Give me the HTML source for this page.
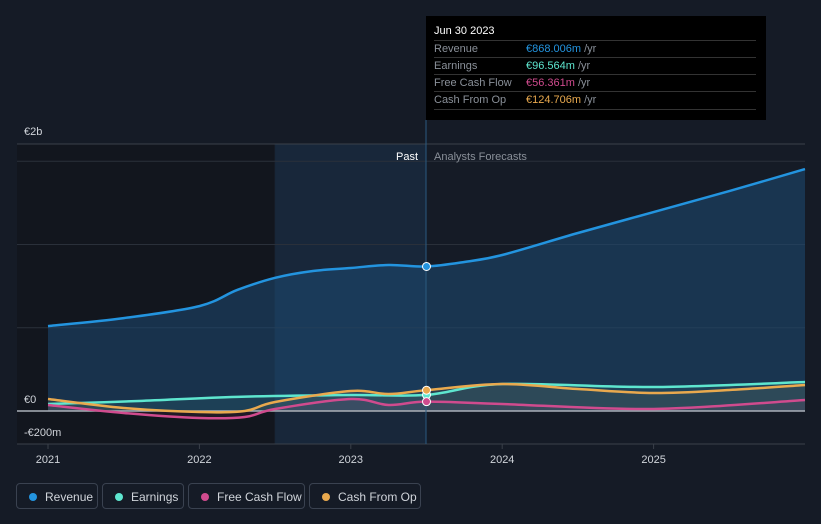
<!DOCTYPE html>
<html><head><meta charset="utf-8"><style>
body{margin:0;background:#151b26;font-family:"Liberation Sans",sans-serif;}
#c{position:absolute;left:0;top:0;width:821px;height:524px;}
.leg{position:absolute;top:483px;height:26px;border:1px solid #3a4250;border-radius:4px;color:#d0d4da;font-size:12px;line-height:26px;box-sizing:border-box;padding-left:28px}
.leg i{position:absolute;left:12px;top:9px;width:8px;height:8px;border-radius:50%}
.tt{position:absolute;left:426px;top:16px;width:340px;height:104px;background:#000;color:#8a9099;font-size:11px}
.tt .r{position:absolute;left:8px;width:322px;border-top:1px solid #333;height:17px;line-height:17px}
</style></head><body>
<svg id="c" width="821" height="524"></svg>
<div class="tt">
<div style="position:absolute;left:8px;top:9px;color:#fff;font-size:11px">Jun 30 2023</div>
<div class="r" style="top:24px">Revenue<span style="position:absolute;left:92px;color:#2394df">€868.006m <span style="color:#8a9099">/yr</span></span></div>
<div class="r" style="top:41px">Earnings<span style="position:absolute;left:92px;color:#5ee6cf">€96.564m <span style="color:#8a9099">/yr</span></span></div>
<div class="r" style="top:58px">Free Cash Flow<span style="position:absolute;left:92px;color:#d04b8e">€56.361m <span style="color:#8a9099">/yr</span></span></div>
<div class="r" style="top:75px;border-bottom:1px solid #333">Cash From Op<span style="position:absolute;left:92px;color:#e9a94e">€124.706m <span style="color:#8a9099">/yr</span></span></div>
</div>
<div class="leg" style="left:16px;width:82px"><i style="background:#2394df"></i>Revenue</div>
<div class="leg" style="left:102px;width:82px"><i style="background:#5ee6cf"></i>Earnings</div>
<div class="leg" style="left:188px;width:117px"><i style="background:#d04b8e"></i>Free Cash Flow</div>
<div class="leg" style="left:309px;width:112px"><i style="background:#e9a94e"></i>Cash From Op</div>
<script>
const revT=[2021,2021.5,2022,2022.25,2022.5,2022.75,2023,2023.25,2023.5,2023.75,2024,2024.5,2025,2025.5,2026];
const revV=[510,558,630,727,800,841,859,877,868,895,937,1069,1195,1321,1453];
const earnT=[2021,2021.6,2022.25,2023,2023.5,2024,2025,2026];
const earnV=[42,60,85,96,96.5,162,144,174];
const fcfT=[2021,2021.5,2022,2022.3,2022.5,2023,2023.25,2023.5,2024,2025,2026];
const fcfV=[36,-12,-42,-36,12,72,36,56,42,12,66];
const cfoT=[2021,2021.5,2022,2022.3,2022.5,2023,2023.25,2023.5,2024,2024.5,2025,2025.5,2026];
const cfoV=[72,18,-6,0,54,120,102,125,162,132,108,126,156];
const xTicks=[2021,2022,2023,2024,2025];
const yTicks=[1500,1000,500];
const X=t=>48+(t-2021)*151.4, Y=v=>411-v*0.1665;
const s=document.getElementById('c'),NS='http://www.w3.org/2000/svg';
function el(n,a,p){const e=document.createElementNS(NS,n);for(const k in a)e.setAttribute(k,a[k]);(p||s).appendChild(e);return e;}
function path(T,V){let p=[];for(let i=0;i<T.length;i++)p.push([X(T[i]),Y(V[i])]);
 let d='M'+p[0];for(let i=0;i<p.length-1;i++){const p0=p[i-1]||p[i],p1=p[i],p2=p[i+1],p3=p[i+2]||p2;
 d+=' C'+(p1[0]+(p2[0]-p0[0])/6)+','+(p1[1]+(p2[1]-p0[1])/6)+' '+(p2[0]-(p3[0]-p1[0])/6)+','+(p2[1]-(p3[1]-p1[1])/6)+' '+p2;}return d;}
const bg=el('rect',{x:17,y:144,width:257,height:300,fill:'#12161e'});

const pr=el('rect',{x:X(2022.5),y:144,width:X(2023.5)-X(2022.5),height:300,fill:'#1b3148',opacity:0.6});

el('line',{x1:17,x2:805,y1:144,y2:144,stroke:'#3a404a'});
yTicks.forEach(v=>{const g=el('line',{x1:17,x2:805,y1:Y(v),y2:Y(v),stroke:'#2a303a'});});
el('line',{x1:17,x2:805,y1:444,y2:444,stroke:'#3a404a'});
const rp=path(revT,revV);
const ra=el('path',{d:rp+' L'+X(2026)+','+Y(0)+' L'+X(2021)+','+Y(0)+'Z',fill:'#1e4a72',opacity:0.55});

[[earnT,earnV,'#5ee6cf'],[cfoT,cfoV,'#e9a94e'],[fcfT,fcfV,'#d04b8e']].forEach(([T,V,c])=>{const a=el('path',{d:path(T,V)+' L'+X(2026)+','+Y(0)+' L'+X(2021)+','+Y(0)+'Z',fill:c,opacity:0.08});});
el('line',{x1:17,x2:805,y1:Y(0),y2:Y(0),stroke:'#aab0b8','stroke-width':1.5});
el('line',{x1:426,x2:426,y1:120,y2:444,stroke:'#2a5a80'});
const lines=[['revenue-line',revT,revV,'#2394df',868],['earnings-line',earnT,earnV,'#5ee6cf',96.5],['free-cash-flow-line',fcfT,fcfV,'#d04b8e',56],['cash-from-op-line',cfoT,cfoV,'#e9a94e',125]];
lines.forEach(([n,T,V,c])=>{const l=el('path',{d:path(T,V),fill:'none',stroke:c,'stroke-width':2.5});});
lines.forEach(([n,T,V,c,v])=>{const m=el('circle',{cx:X(2023.5),cy:Y(v),r:4,fill:c,stroke:'#fff','stroke-width':1});});
function tx(x,y,t,o){const e=el('text',Object.assign({x:x,y:y,fill:'#d0d4da','font-size':11,'font-family':'Liberation Sans'},o||{}));e.textContent=t;return e;}
let t;
t=tx(24,135,'€2b');
t=tx(24,403,'€0');
t=tx(24,436,'-€200m');
t=tx(418,160,'Past',{'text-anchor':'end',fill:'#fff'});
t=tx(434,160,'Analysts Forecasts',{fill:'#8a9099'});
xTicks.forEach(y=>{el('line',{x1:X(y),x2:X(y),y1:444,y2:449,stroke:'#3a404a'});const e=tx(X(y),463,String(y),{'text-anchor':'middle'});});
</script>
</body></html>
